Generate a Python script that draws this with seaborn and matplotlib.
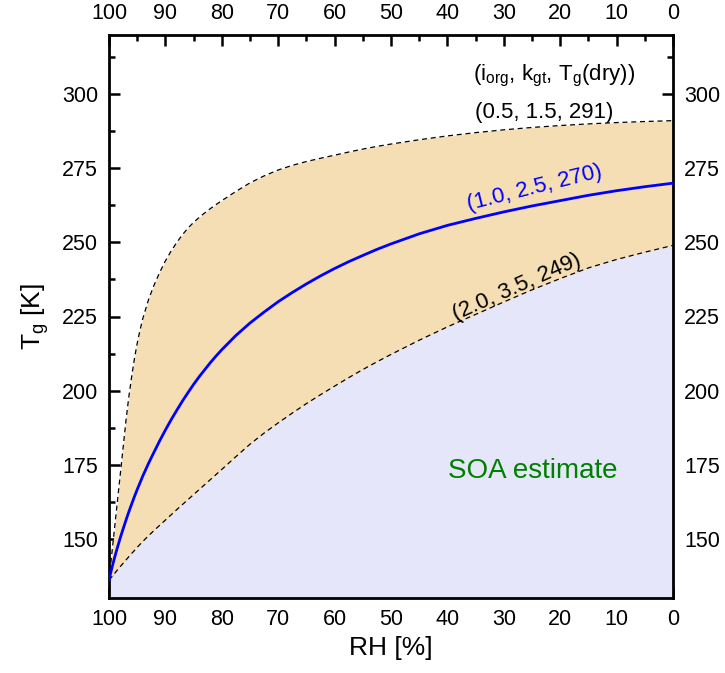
import numpy as np
import pandas as pd
import matplotlib
matplotlib.use("Agg")
import matplotlib.pyplot as plt
from matplotlib.ticker import MultipleLocator
import seaborn as sns

# Relative humidity grid (%) shared by all curves
rh = [100, 99.7, 99.4, 99, 98.5, 98, 97.5, 97, 96.5, 96, 95.5, 95, 94.5, 94,
      93, 92, 91, 90, 89, 88, 87, 86, 85, 84, 83, 82, 81, 80, 77.5, 75, 72.5,
      70, 67.5, 65, 62.5, 60, 57.5, 55, 52.5, 50, 45, 40, 35, 30, 25, 20, 15,
      10, 5, 0]
# Tg (K) for (i_org, k_gt, Tg(dry)) = (0.5, 1.5, 291)
tg_upper = [136, 141.4, 146.7, 153.9, 162.8, 171.8, 180.7, 189.7, 197.7,
            204.45, 210.7, 215.95, 220.45, 224.35, 230.65, 235.65, 239.95,
            243.75, 247.05, 249.95, 252.55, 254.85, 256.75, 258.45, 260.0,
            261.45, 262.8, 264.1, 267.2, 270.1, 272.45, 274.45, 276.0, 277.3,
            278.4, 279.45, 280.5, 281.5, 282.4, 283.2, 284.65, 285.95,
            287.05, 288.0, 288.8, 289.45, 290.0, 290.45, 290.8, 291.1]
# Tg (K) for (1.0, 2.5, 270)
tg_mid = [136, 138.5, 140.8, 143.7, 147.1, 150.3, 153.3, 156.2, 159.0, 161.6,
          164.2, 166.6, 168.9, 171.2, 175.4, 179.3, 183.1, 186.7, 190.1,
          193.3, 196.4, 199.3, 202.1, 204.7, 207.1, 209.5, 211.7, 213.8,
          218.6, 222.8, 226.5, 230.0, 233.1, 236.0, 238.7, 241.2, 243.5,
          245.6, 247.65, 249.5, 252.9, 255.75, 258.1, 260.3, 262.3, 264.1,
          265.9, 267.45, 268.8, 270]
# Tg (K) for (2.0, 3.5, 249)
tg_lower = [136, 136.7, 137.4, 138.3, 139.5, 140.6, 141.7, 142.8, 143.9,
            145.0, 146.0, 147.1, 148.1, 149.1, 151.0, 152.8, 154.55, 156.3,
            158.05, 159.8, 161.5, 163.2, 164.9, 166.6, 168.3, 170.0, 171.7,
            173.4, 177.7, 181.9, 185.65, 189.1, 192.4, 195.6, 198.6, 201.5,
            204.35, 207.1, 209.7, 212.2, 217.0, 221.5, 225.7, 229.9, 234.0,
            237.8, 241.4, 244.25, 246.7, 249]

labels = ["(0.5, 1.5, 291)", "(1.0, 2.5, 270)", "(2.0, 3.5, 249)"]

x_ticks = [100, 90, 80, 70, 60, 50, 40, 30, 20, 10, 0]
y_ticks = [150, 175, 200, 225, 250, 275, 300]

sns.set_theme(style="ticks")
plt.rcParams["font.family"] = ["Liberation Sans", "DejaVu Sans"]
plt.rcParams["mathtext.fontset"] = "custom"
plt.rcParams["mathtext.rm"] = "Liberation Sans"
plt.rcParams["mathtext.it"] = "Liberation Sans"
for k in ["text.color", "axes.labelcolor", "xtick.color", "ytick.color",
          "axes.edgecolor"]:
    plt.rcParams[k] = "black"

df = pd.DataFrame({"RH": rh, "upper": tg_upper, "mid": tg_mid, "lower": tg_lower})

fig = plt.figure(figsize=(7.25, 6.73), dpi=100)
ax = fig.add_axes([109/725, 75/673, (673-109)/725, (598-35)/673])

ymin, ymax = 130, 320
ax.fill_between(df["RH"], ymin, df["lower"], color="#E6E6FA", lw=0, zorder=1)
ax.fill_between(df["RH"], df["lower"], df["upper"], color="#F5DEB3", lw=0, zorder=1)

sns.lineplot(data=df, x="RH", y="upper", ax=ax, color="black", lw=0.9,
             linestyle=(0, (4, 3)), sort=False, zorder=3)
sns.lineplot(data=df, x="RH", y="lower", ax=ax, color="black", lw=0.9,
             linestyle=(0, (4, 3)), sort=False, zorder=3)
sns.lineplot(data=df, x="RH", y="mid", ax=ax, color="blue", lw=2,
             sort=False, zorder=4)

ax.set_xlim(100, 0)
ax.set_ylim(ymin, ymax)
ax.set_xticks(x_ticks)
ax.set_yticks(y_ticks)
ax.xaxis.set_minor_locator(MultipleLocator(5))
ax.yaxis.set_minor_locator(MultipleLocator(12.5))
ax.tick_params(which="both", direction="in", top=True, right=True,
               labeltop=True, labelright=True, width=1.8, color="black",
               labelcolor="black")
ax.tick_params(which="major", length=8, labelsize=15.5, pad=8)
ax.tick_params(which="minor", length=4)
for s in ax.spines.values():
    s.set_linewidth(2)
    s.set_color("black")

ax.set_xlabel("RH [%]", fontsize=19, labelpad=4, color="black")
ax.set_ylabel("T$_\\mathregular{g}$ [K]", fontsize=19, labelpad=8, color="black")

fs = 16
ax.text(35.5, 306.3, "(i$_\\mathregular{org}$, k$_\\mathregular{gt}$, T$_\\mathregular{g}$(dry))",
        fontsize=fs, ha="left", va="center", color="black", zorder=5)
ax.text(35.1, 294.0, labels[0], fontsize=fs, ha="left", va="center",
        color="black", zorder=5)
ax.text(24.5, 268.3, labels[1], fontsize=fs, ha="center", va="center",
        rotation=14, color="blue", zorder=5)
ax.text(27.7, 235.0, labels[2], fontsize=fs, ha="center", va="center",
        rotation=24, color="black", zorder=5)
ax.text(24.9, 172.9, "SOA estimate", fontsize=20, ha="center", va="center",
        color="green", zorder=5)

fig.savefig("out.png", dpi=100)
